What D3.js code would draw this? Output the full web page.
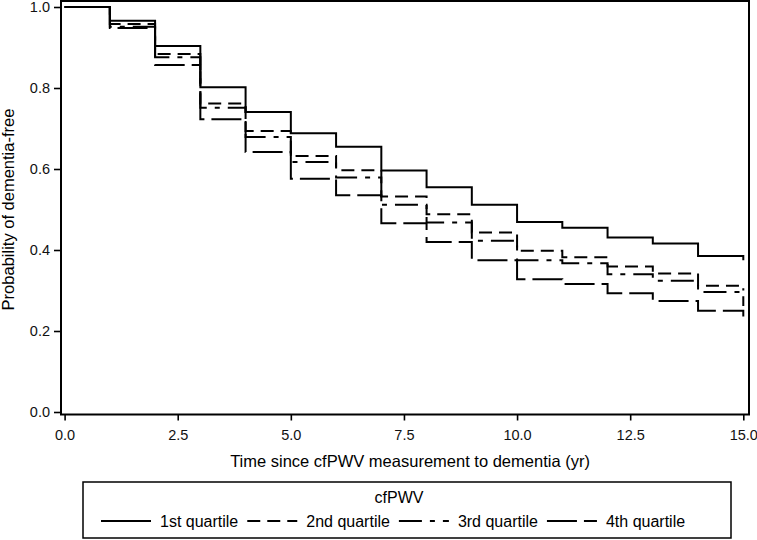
<!DOCTYPE html>
<html>
<head>
<meta charset="utf-8">
<script src="https://cdn.jsdelivr.net/npm/d3@7"></script>
<style>
  body { margin: 0; background: #fff; }
  svg { display: block; font-family: Arial, "Liberation Sans", sans-serif; }
</style>
</head>
<body>
<svg width="757" height="540"></svg>
<script>
// follow-up years (start of each interval)
var years = [0, 1, 2, 3, 4, 5, 6, 7, 8, 9, 10, 11, 12, 13, 14];
var endYear = 15;

// dementia-free probability per cfPWV quartile
var q1 = [1.0, 0.966, 0.904, 0.802, 0.741, 0.688, 0.655, 0.596, 0.555, 0.512, 0.469, 0.455, 0.431, 0.416, 0.385];
var q2 = [1.0, 0.958, 0.884, 0.762, 0.694, 0.632, 0.597, 0.532, 0.488, 0.443, 0.398, 0.382, 0.359, 0.342, 0.312];
var q3 = [1.0, 0.951, 0.876, 0.751, 0.679, 0.617, 0.579, 0.512, 0.468, 0.423, 0.375, 0.367, 0.340, 0.324, 0.296];
var q4 = [1.0, 0.948, 0.857, 0.723, 0.642, 0.576, 0.535, 0.466, 0.420, 0.375, 0.328, 0.316, 0.293, 0.274, 0.250];
// value after the last drop at year 15
var lastValues = [0.375, 0.300, 0.262, 0.236];

var seriesNames = ["1st quartile", "2nd quartile", "3rd quartile", "4th quartile"];
var xTicks = [0, 2.5, 5, 7.5, 10, 12.5, 15];
var yTicks = [0, 0.2, 0.4, 0.6, 0.8, 1.0];

var dashes = ["none", "13,7", "23,8,5,8", "30,7"];

var svg = d3.select("svg");

var frame = { left: 61, top: 1, right: 749, bottom: 414.5 };

var x = d3.scaleLinear().domain([0, 15]).range([64.6, 743.3]);
var y = d3.scaleLinear().domain([0, 1]).range([412, 7]);

// plot frame
svg.append("rect")
  .attr("x", frame.left)
  .attr("y", frame.top)
  .attr("width", frame.right - frame.left)
  .attr("height", frame.bottom - frame.top)
  .attr("fill", "none")
  .attr("stroke", "#000")
  .attr("stroke-width", 2);

var xAxis = svg.append("g")
  .attr("transform", "translate(0," + frame.bottom + ")")
  .call(d3.axisBottom(x).tickValues(xTicks).tickFormat(d3.format(".1f")).tickSize(6).tickPadding(9));

var yAxis = svg.append("g")
  .attr("transform", "translate(" + frame.left + ",0)")
  .call(d3.axisLeft(y).tickValues(yTicks).tickFormat(d3.format(".1f")).tickSize(7).tickPadding(4));

[xAxis, yAxis].forEach(function(ax) {
  ax.select(".domain").remove();
  ax.selectAll(".tick line").attr("stroke", "#000").attr("stroke-width", 1.6);
  ax.selectAll(".tick text")
    .attr("fill", "#111")
    .style("font-size", "14.5px")
    .style("font-family", "Arial, 'Liberation Sans', sans-serif");
});

// axis titles
svg.append("text")
  .attr("x", 410)
  .attr("y", 467)
  .attr("text-anchor", "middle")
  .style("font-size", "16.5px")
  .text("Time since cfPWV measurement to dementia (yr)");

svg.append("text")
  .attr("transform", "translate(14," + ((y(0) + y(1)) / 2) + ") rotate(-90)")
  .attr("text-anchor", "middle")
  .style("font-size", "16.5px")
  .text("Probability of dementia-free");

// survival curves
var line = d3.line()
  .x(function(d) { return x(d.t); })
  .y(function(d) { return y(d.s); })
  .curve(d3.curveStepAfter);

var curves = [q1, q2, q3, q4].map(function(vals, i) {
  var pts = years.map(function(t, j) { return { t: t, s: vals[j] }; });
  pts.push({ t: endYear, s: lastValues[i] });
  return pts;
});

svg.selectAll(".curve")
  .data(curves)
  .enter()
  .append("path")
    .attr("class", "curve")
    .attr("d", line)
    .attr("fill", "none")
    .attr("stroke", "#000")
    .attr("stroke-width", 2)
    .attr("stroke-dasharray", function(d, i) { return dashes[i]; });

// legend
var legend = svg.append("g");

legend.append("rect")
  .attr("x", 83)
  .attr("y", 482)
  .attr("width", 731 - 83)
  .attr("height", 56)
  .attr("fill", "none")
  .attr("stroke", "#000")
  .attr("stroke-width", 1.5);

legend.append("text")
  .attr("x", 399)
  .attr("y", 503)
  .attr("text-anchor", "middle")
  .style("font-size", "16px")
  .text("cfPWV");

var cursor = 101;
seriesNames.forEach(function(name, i) {
  legend.append("line")
    .attr("x1", cursor)
    .attr("x2", cursor + 50)
    .attr("y1", 521)
    .attr("y2", 521)
    .attr("stroke", "#000")
    .attr("stroke-width", 2)
    .attr("stroke-dasharray", dashes[i]);
  var t = legend.append("text")
    .attr("x", cursor + 59)
    .attr("y", 527)
    .style("font-size", "16px")
    .text(name);
  cursor = cursor + 59 + t.node().getComputedTextLength() + 9;
});
</script>
</body>
</html>
